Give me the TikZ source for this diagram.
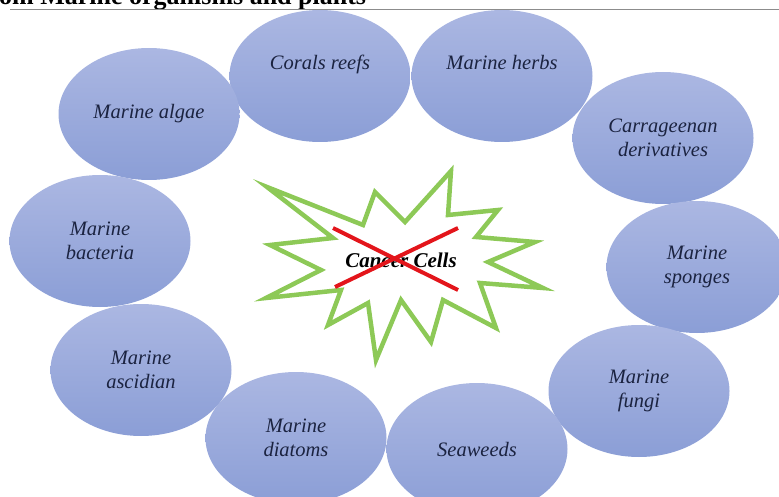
\documentclass[tikz,border=0pt]{standalone}
\usepackage{fontspec}
\setmainfont{Liberation Serif}
\usetikzlibrary{shapes.geometric}
\definecolor{blobtop}{HTML}{ABB7E2}
\definecolor{blobbot}{HTML}{8B9ED6}
\definecolor{blobtext}{HTML}{1B2340}
\definecolor{burstgreen}{HTML}{8DC957}
\definecolor{crossred}{HTML}{E3151B}

\begin{document}
\begin{tikzpicture}[x=1pt, y=-1pt,
    blob/.style={ellipse, minimum width=181pt, minimum height=132pt, inner sep=0pt,
                 top color=blobtop, bottom color=blobbot, text=blobtext, align=center,
                 font=\fontsize{20.5}{24}\selectfont\itshape},
    high/.style={text height=15pt, text depth=27pt},
    burst/.style={draw=burstgreen, line width=4.5pt, line join=miter},
    cross/.style={draw=crossred, line width=4pt},
  ]
  \useasboundingbox (0,0) rectangle (779,497);
  \clip (0,0) rectangle (779,497);

  % sources round the ring
  \node[blob, high] (corals) at (320,76) {Corals reefs};
  \node[blob, high] (herbs) at (502,76) {Marine herbs};
  \node[blob] (algae) at (149,114) {Marine algae};
  \node[blob] (carra) at (663,138) {Carrageenan\\derivatives};
  \node[blob] (bact) at (100,241) {Marine\\bacteria};
  \node[blob] (spong) at (697,267) {Marine\\sponges};
  \node[blob] (ascid) at (141,370) {Marine\\ascidian};
  \node[blob] (fungi) at (639,391) {Marine\\fungi};
  \node[blob] (diat) at (296,438) {Marine\\diatoms};
  \node[blob] (weeds) at (477,449) {Seaweeds};

  % heading cut at the top
  \node[anchor=base west, inner sep=0pt, font=\fontsize{26}{30}\selectfont\bfseries] (title)
    at (-1,5) {om Marine organisms and plants};
  \coordinate (rule-l) at (10,10);
  \coordinate (rule-r) at (779,10);
  \draw[black!45, line width=1pt] (rule-l) -- (rule-r);

  % burst in the middle
  \draw[burst] (267,187) -- (363,225) -- (375,192) -- (405,222) -- (451,171)
    -- (448,215) -- (498,210) -- (476,237) -- (535,242) -- (488,262)
    -- (543,288) -- (480,283) -- (496,328) -- (443,300) -- (431,342)
    -- (401,300) -- (376,360) -- (368,303) -- (328,325) -- (341,290)
    -- (266,298) -- (321,270) -- (270,245) -- (333,238) -- cycle;
  \node[font=\fontsize{21}{25}\selectfont\bfseries\itshape] (cancer) at (401,260) {Cancer Cells};
  \draw[cross] (333,228) -- (458,290);
  \draw[cross] (335,287) -- (458,228);
\end{tikzpicture}
\end{document}
